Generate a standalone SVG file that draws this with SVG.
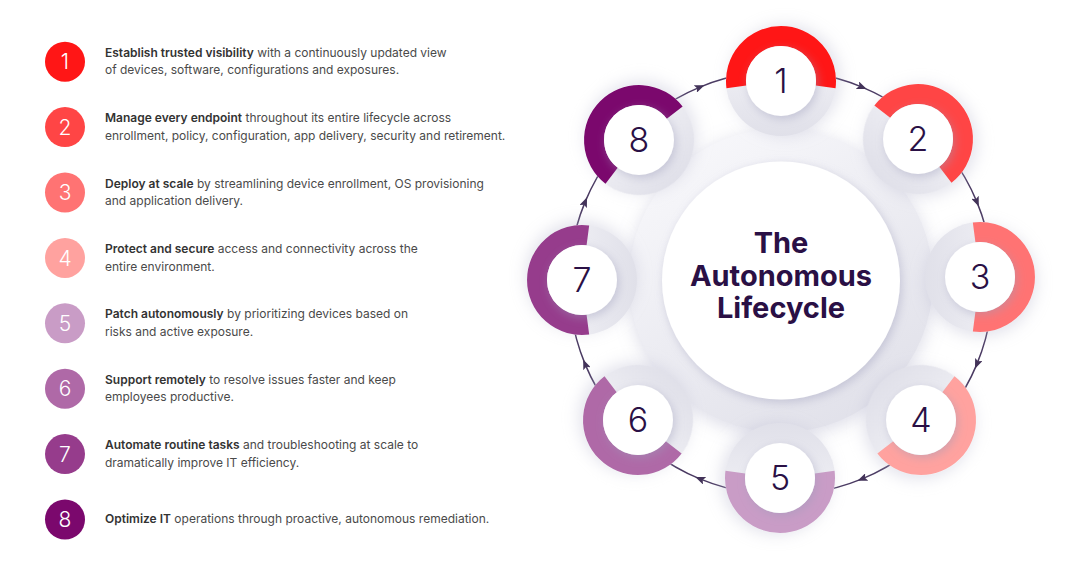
<svg xmlns="http://www.w3.org/2000/svg" width="1080" height="565" viewBox="0 0 1080 565">
  <style>
    .it { font-family: Inter, "Liberation Sans", sans-serif; font-size: 12px; fill: #4a4a4a; }
    .b { font-weight: 600; fill: #333333; }
    .ld { font-family: Inter, "Liberation Sans", sans-serif; font-size: 21px; font-weight: 300; fill: #ffffff; text-anchor: middle; }
    .nd { font-family: Inter, "Liberation Sans", sans-serif; font-size: 34px; font-weight: 300; fill: #2a1045; text-anchor: middle; }
    .ttl { font-family: Inter, "Liberation Sans", sans-serif; font-size: 29px; font-weight: 700; fill: #2a1045; text-anchor: middle; }
    .con { fill: none; stroke: #4a3a62; stroke-width: 1.5; marker-mid: url(#arr); }
    .ring { fill: none; stroke-width: 20; }
  </style>
  <defs>
    <marker id="arr" viewBox="0 0 10 8" refX="5" refY="4" markerWidth="10" markerHeight="8" markerUnits="userSpaceOnUse" orient="auto">
      <path d="M0,0 L10,4 L0,8 L2,4 z" fill="#433359"/>
    </marker>
    <linearGradient id="bigGrad" x1="0.2" y1="0" x2="0.8" y2="1">
      <stop offset="0" stop-color="#f8f8fb"/>
      <stop offset="1" stop-color="#e0e0e9"/>
    </linearGradient>
    <linearGradient id="nodeGrad" x1="1" y1="0.5" x2="0" y2="0.5">
      <stop offset="0" stop-color="#f8f8fb"/>
      <stop offset="1" stop-color="#e0e0e9"/>
    </linearGradient>
    <filter id="shadowA" x="-40%" y="-40%" width="180%" height="180%">
      <feGaussianBlur in="SourceAlpha" stdDeviation="9" result="b"/>
      <feOffset in="b" dx="0" dy="4" result="o"/>
      <feFlood flood-color="#b8b8cf" flood-opacity="0.5"/>
      <feComposite operator="in" in2="o" result="s"/>
      <feMerge><feMergeNode in="s"/><feMergeNode in="SourceGraphic"/></feMerge>
    </filter>
    <filter id="shadowN" x="-40%" y="-40%" width="180%" height="180%">
      <feGaussianBlur in="SourceAlpha" stdDeviation="8" result="b"/>
      <feOffset in="b" dx="1" dy="4" result="o"/>
      <feFlood flood-color="#b4b4cc" flood-opacity="0.4"/>
      <feComposite operator="in" in2="o" result="s"/>
      <feMerge><feMergeNode in="s"/><feMergeNode in="SourceGraphic"/></feMerge>
    </filter>
    <filter id="shadowI" x="-50%" y="-50%" width="200%" height="200%">
      <feGaussianBlur in="SourceAlpha" stdDeviation="5" result="b"/>
      <feOffset in="b" dx="2" dy="3" result="o"/>
      <feFlood flood-color="#9c9cba" flood-opacity="0.45"/>
      <feComposite operator="in" in2="o" result="s"/>
      <feMerge><feMergeNode in="s"/><feMergeNode in="SourceGraphic"/></feMerge>
    </filter>
  </defs>

  <rect width="1080" height="565" fill="#ffffff"/>

  <!-- Left list -->
  <g id="list">
    <g id="item-1">
      <circle cx="65" cy="61.7" r="20" fill="#ff1616"/>
      <text class="ld" x="65" y="69.3">1</text>
      <text class="it" x="105" y="56.7"><tspan class="b">Establish trusted visibility</tspan> with a continuously updated view</text>
      <text class="it" x="105" y="74.4">of devices, software, configurations and exposures.</text>
    </g>
    <g id="item-2">
      <circle cx="65" cy="127.1" r="20" fill="#ff4545"/>
      <text class="ld" x="65" y="134.7">2</text>
      <text class="it" x="105" y="122.1"><tspan class="b">Manage every endpoint</tspan> throughout its entire lifecycle across</text>
      <text class="it" x="105" y="139.8">enrollment, policy, configuration, app delivery, security and retirement.</text>
    </g>
    <g id="item-3">
      <circle cx="65" cy="192.5" r="20" fill="#ff7373"/>
      <text class="ld" x="65" y="200.1">3</text>
      <text class="it" x="105" y="187.5"><tspan class="b">Deploy at scale</tspan> by streamlining device enrollment, OS provisioning</text>
      <text class="it" x="105" y="205.2">and application delivery.</text>
    </g>
    <g id="item-4">
      <circle cx="65" cy="257.9" r="20" fill="#ffa29f"/>
      <text class="ld" x="65" y="265.5">4</text>
      <text class="it" x="105" y="252.9"><tspan class="b">Protect and secure</tspan> access and connectivity across the</text>
      <text class="it" x="105" y="270.6">entire environment.</text>
    </g>
    <g id="item-5">
      <circle cx="65" cy="323.3" r="20" fill="#c99cc6"/>
      <text class="ld" x="65" y="330.9">5</text>
      <text class="it" x="105" y="318.3"><tspan class="b">Patch autonomously</tspan> by prioritizing devices based on</text>
      <text class="it" x="105" y="336">risks and active exposure.</text>
    </g>
    <g id="item-6">
      <circle cx="65" cy="388.7" r="20" fill="#af69a7"/>
      <text class="ld" x="65" y="396.3">6</text>
      <text class="it" x="105" y="383.7"><tspan class="b">Support remotely</tspan> to resolve issues faster and keep</text>
      <text class="it" x="105" y="401.4">employees productive.</text>
    </g>
    <g id="item-7">
      <circle cx="65" cy="454.1" r="20" fill="#963c8c"/>
      <text class="ld" x="65" y="461.7">7</text>
      <text class="it" x="105" y="449.1"><tspan class="b">Automate routine tasks</tspan> and troubleshooting at scale to</text>
      <text class="it" x="105" y="466.8">dramatically improve IT efficiency.</text>
    </g>
    <g id="item-8">
      <circle cx="65" cy="519.5" r="20" fill="#7b086d"/>
      <text class="ld" x="65" y="527.1">8</text>
      <text class="it" x="105" y="523"><tspan class="b">Optimize IT</tspan> operations through proactive, autonomous remediation.</text>
    </g>
  </g>

  <!-- Center -->
  <g id="center">
    <circle cx="781" cy="280.5" r="152" fill="url(#bigGrad)" filter="url(#shadowA)"/>
    <circle cx="781" cy="280.5" r="119" fill="#ffffff" filter="url(#shadowI)"/>
    <text class="ttl" x="781" y="253">The</text>
    <text class="ttl" x="781" y="285.5">Autonomous</text>
    <text class="ttl" x="781" y="318">Lifecycle</text>
  </g>

  <!-- Connectors -->
  <g id="connectors">
    <path class="con" d="M810.5,73.1 A212,212 0 0 1 862.1,87.1 A212,212 0 0 1 908.6,113.7"/>
    <path class="con" d="M950.3,155.4 A212,212 0 0 1 976.9,201.9 A212,212 0 0 1 990.9,253.5"/>
    <path class="con" d="M990.9,312.5 A212,212 0 0 1 976.9,364.1 A212,212 0 0 1 950.3,410.6"/>
    <path class="con" d="M908.6,452.3 A212,212 0 0 1 862.1,478.9 A212,212 0 0 1 810.5,492.9"/>
    <path class="con" d="M751.5,492.9 A212,212 0 0 1 699.9,478.9 A212,212 0 0 1 653.4,452.3"/>
    <path class="con" d="M611.7,410.6 A212,212 0 0 1 585.1,364.1 A212,212 0 0 1 571.1,312.5"/>
    <path class="con" d="M571.1,253.5 A212,212 0 0 1 585.1,201.9 A212,212 0 0 1 611.7,155.4"/>
    <path class="con" d="M653.4,113.7 A212,212 0 0 1 699.9,87.1 A212,212 0 0 1 751.5,73.1"/>
  </g>

  <!-- Nodes -->
  <g id="node-1" transform="translate(781,81)">
    <g transform="rotate(-90)">
      <circle r="55" fill="url(#nodeGrad)" filter="url(#shadowN)"/>
      <path class="ring" stroke="#ff1616" d="M-5.87,-44.62 A45,45 0 1 1 -5.87,44.62"/>
    </g>
    <circle r="35" fill="#ffffff" filter="url(#shadowI)"/>
    <text class="nd" y="12.3">1</text>
  </g>
  <g id="node-2" transform="translate(918,139)">
    <g transform="rotate(-45)">
      <circle r="55" fill="url(#nodeGrad)" filter="url(#shadowN)"/>
      <path class="ring" stroke="#ff4545" d="M-5.87,-44.62 A45,45 0 1 1 -5.87,44.62"/>
    </g>
    <circle r="35" fill="#ffffff" filter="url(#shadowI)"/>
    <text class="nd" y="12.3">2</text>
  </g>
  <g id="node-3" transform="translate(980,277)">
    <g>
      <circle r="55" fill="url(#nodeGrad)" filter="url(#shadowN)"/>
      <path class="ring" stroke="#ff7373" d="M-5.87,-44.62 A45,45 0 1 1 -5.87,44.62"/>
    </g>
    <circle r="35" fill="#ffffff" filter="url(#shadowI)"/>
    <text class="nd" y="12.3">3</text>
  </g>
  <g id="node-4" transform="translate(921,420)">
    <g transform="rotate(45)">
      <circle r="55" fill="url(#nodeGrad)" filter="url(#shadowN)"/>
      <path class="ring" stroke="#ffa29f" d="M-5.87,-44.62 A45,45 0 1 1 -5.87,44.62"/>
    </g>
    <circle r="35" fill="#ffffff" filter="url(#shadowI)"/>
    <text class="nd" y="12.3">4</text>
  </g>
  <g id="node-5" transform="translate(780,478)">
    <g transform="rotate(90)">
      <circle r="55" fill="url(#nodeGrad)" filter="url(#shadowN)"/>
      <path class="ring" stroke="#c99cc6" d="M-5.87,-44.62 A45,45 0 1 1 -5.87,44.62"/>
    </g>
    <circle r="35" fill="#ffffff" filter="url(#shadowI)"/>
    <text class="nd" y="12.3">5</text>
  </g>
  <g id="node-6" transform="translate(638,420)">
    <g transform="rotate(135)">
      <circle r="55" fill="url(#nodeGrad)" filter="url(#shadowN)"/>
      <path class="ring" stroke="#af69a7" d="M-5.87,-44.62 A45,45 0 1 1 -5.87,44.62"/>
    </g>
    <circle r="35" fill="#ffffff" filter="url(#shadowI)"/>
    <text class="nd" y="12.3">6</text>
  </g>
  <g id="node-7" transform="translate(582,280)">
    <g transform="rotate(180)">
      <circle r="55" fill="url(#nodeGrad)" filter="url(#shadowN)"/>
      <path class="ring" stroke="#963c8c" d="M-5.87,-44.62 A45,45 0 1 1 -5.87,44.62"/>
    </g>
    <circle r="35" fill="#ffffff" filter="url(#shadowI)"/>
    <text class="nd" y="12.3">7</text>
  </g>
  <g id="node-8" transform="translate(639,140)">
    <g transform="rotate(-135)">
      <circle r="55" fill="url(#nodeGrad)" filter="url(#shadowN)"/>
      <path class="ring" stroke="#7b086d" d="M-5.87,-44.62 A45,45 0 1 1 -5.87,44.62"/>
    </g>
    <circle r="35" fill="#ffffff" filter="url(#shadowI)"/>
    <text class="nd" y="12.3">8</text>
  </g>
</svg>
